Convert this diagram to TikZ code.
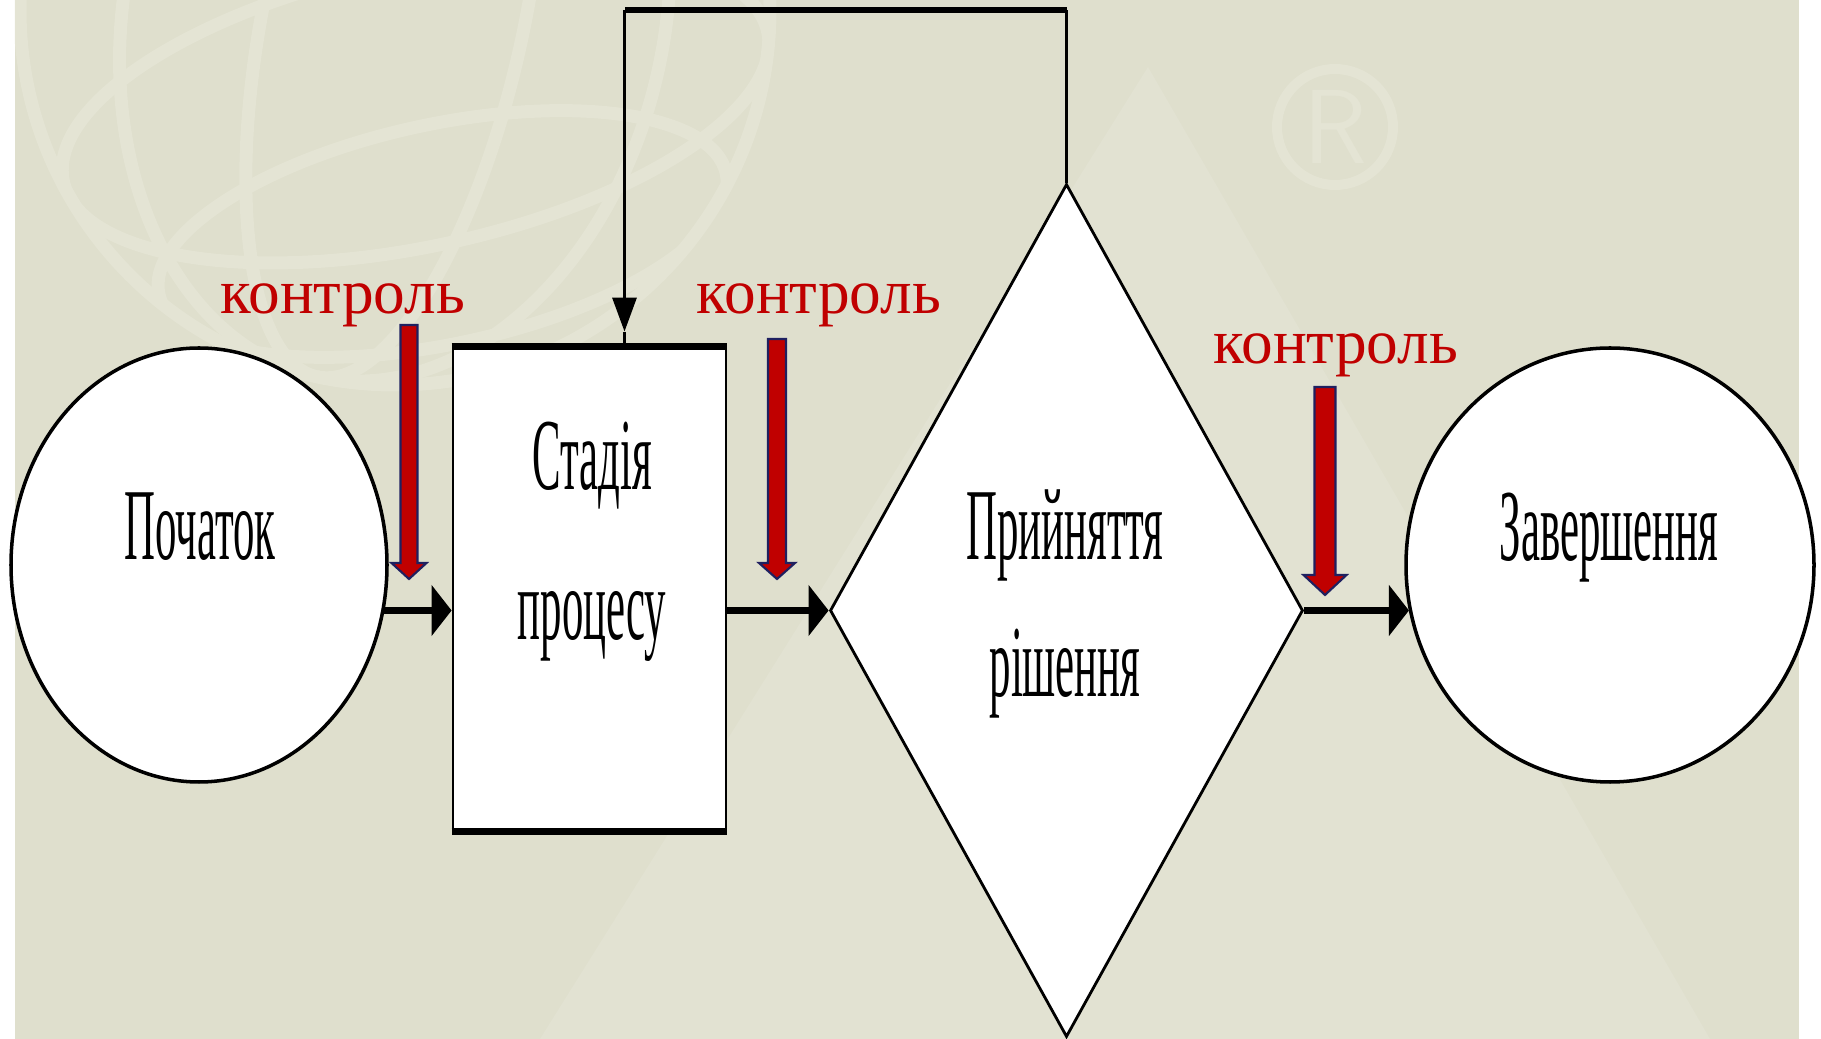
\documentclass[tikz,border=0pt]{standalone}
\usepackage{fontspec}
\setmainfont{Liberation Serif}
\newfontfamily\narrowfont[FakeStretch=0.42]{Liberation Serif}
\usetikzlibrary{shapes.geometric,arrows.meta,positioning,calc}

\definecolor{slidebg}{HTML}{DFDFCD}
\definecolor{watermark}{HTML}{E4E4D4}
\definecolor{ctrlred}{HTML}{C00000}
\definecolor{ctrlnavy}{HTML}{1F2060}

\tikzset{
  terminal/.style={ellipse,draw,fill=white,line width=1pt,inner sep=0pt},
  stagebox/.style={rectangle,draw,fill=white,line width=0.8pt,inner sep=0pt},
  decision/.style={diamond,draw,fill=white,line width=0.8pt,inner sep=0pt},
  boxtext/.style={font=\narrowfont\fontsize{29pt}{39pt}\selectfont,align=center,anchor=base},
  ctrltext/.style={font=\fontsize{18pt}{20pt}\selectfont,text=ctrlred,anchor=base},
  flow/.style={line width=1.8pt,-{Triangle[length=0.2cm,width=0.5cm]}},
  ctrlarrow/.style={fill=ctrlred,draw=ctrlnavy,line width=0.6pt},
  wmline/.style={draw=watermark,line width=0.13cm}
}

\begin{document}
\begin{tikzpicture}
  % Slide background
  \useasboundingbox (0,0) rectangle (18.21,10.39);
  \fill[slidebg] (0.15,0) rectangle (17.99,10.39);

  % Faint watermark: letter, globe and registered sign
  \begin{scope}
    \clip (0.15,0) rectangle (17.99,10.39);
    \fill[watermark!70!slidebg] (11.48,9.72) -- (5.4,0) -- (17.1,0) -- cycle;
    \draw[wmline] (3.95,10.29) circle (3.75);
    \begin{scope}
      \clip (3.95,10.29) circle (3.75);
      \foreach \rx in {1.3,2.7}
        \draw[wmline,rotate around={-12:(3.95,10.29)}] (3.95,10.29) ellipse (\rx cm and 3.75cm);
      \draw[wmline,rotate around={12:(3.95,10.29)}] (3.95,9.3) ellipse (3.6cm and 1.4cm);
      \draw[wmline,rotate around={12:(3.95,10.29)}] (3.95,8.0) ellipse (2.9cm and 1.1cm);
    \end{scope}
  \end{scope}
  \draw[wmline,line width=0.1cm] (13.35,9.12) circle (0.58);
  \node[text=watermark,font=\sffamily\fontsize{30pt}{30pt}\selectfont] (reg) at (13.35,9.12) {R};

  % Process shapes
  \node[terminal,minimum width=3.76cm,minimum height=4.34cm] (start) at (1.99,4.74) {};
  \node[stagebox,minimum width=2.73cm,minimum height=4.82cm] (stage) at (5.895,4.50) {};
  \node[decision,minimum width=4.73cm,minimum height=8.53cm] (dec) at (10.665,4.285) {};
  \node[terminal,minimum width=4.08cm,minimum height=4.34cm] (finish) at (16.10,4.74) {};
  \draw[line width=1.8pt] (stage.north west) -- (stage.north east);
  \draw[line width=1.8pt] (stage.south west) -- (stage.south east);

  % Texts in the shapes (base = baseline of the last line)
  \node[boxtext] (start-txt) at (2.00,4.79) {Початок};
  \node[boxtext] (stage-txt) at (5.92,3.99) {Стадія\\[3.7pt]процесу};
  \node[boxtext] (dec-txt) at (10.65,3.42) {Прийняття\\рішення};
  \node[boxtext] (finish-txt) at (16.09,4.78) {Завершення};

  % Flow between the stages
  \draw[flow] (start.-14 |- dec.west) -- (stage.west |- dec.west);
  \draw[flow] (stage.east |- dec.west) -- (dec.west);
  \draw[flow] (dec.east) -- (dec.east -| finish.193);

  % Feedback from the decision back to the stage
  \coordinate (loop) at (10.665,10.29);
  \coordinate (loop-in) at ([xshift=3.5mm]stage.north);
  \draw[line width=0.9pt] (dec.north) -- (loop);
  \draw[line width=1.8pt] (loop) -- (loop -| loop-in);
  \draw[line width=0.9pt,-{Triangle[length=0.34cm,width=0.24cm]}] (loop -| loop-in) -- ([yshift=1.5mm]loop-in);
  \draw[line width=0.9pt] ([yshift=1.5mm]loop-in) -- (loop-in);

  % Control points
  \foreach \x/\ytop/\ytip/\w/\hw/\hl in {4.09/7.14/4.60/0.085/0.175/0.16,
                                          7.77/7.00/4.60/0.09/0.18/0.16,
                                          13.25/6.52/4.44/0.105/0.215/0.2}
    \filldraw[ctrlarrow] ({\x-\w},\ytop) -- ({\x+\w},\ytop) -- ({\x+\w},{\ytip+\hl})
      -- ({\x+\hw},{\ytip+\hl}) -- (\x,\ytip) -- ({\x-\hw},{\ytip+\hl}) -- ({\x-\w},{\ytip+\hl}) -- cycle;
  \node[ctrltext] (ctrl-a) at (3.43,7.25) {контроль};
  \node[ctrltext] (ctrl-b) at (8.19,7.25) {контроль};
  \node[ctrltext] (ctrl-c) at (13.36,6.75) {контроль};
\end{tikzpicture}
\end{document}
